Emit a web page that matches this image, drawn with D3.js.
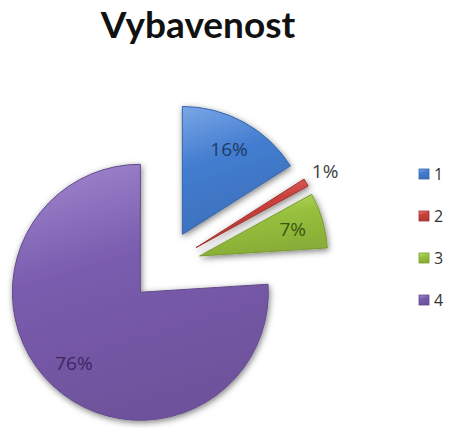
<!DOCTYPE html>
<html>
<head>
<meta charset="utf-8">
<script src="https://cdn.jsdelivr.net/npm/d3@7"></script>
<style>
  body { margin: 0; background: #fff; }
  svg { display: block; }
</style>
</head>
<body>
<div class="chart"></div>
<script>
// data
var categories = ["1", "2", "3", "4"];
var values = [16, 1, 7, 76];
var labels = ["16%", "1%", "7%", "76%"];
var colors = ["#437dd0", "#c9403c", "#98c13d", "#7a5cae"];
var lightColors = ["#7aa6e6", "#e8807a", "#c2e276", "#a288d0"];
var labelColors = ["#1e3a66", "#404040", "#3a5512", "#3a2860"];

var width = 450, height = 428;
var radius = 128, explode = 36;
var cx = 165, cy = 266;

var svg = d3.select(".chart").append("svg")
            .attr("width", width)
            .attr("height", height);

var defs = svg.append("defs");

var shadow = defs.append("filter").attr("id", "shadow")
                 .attr("x", "-20%").attr("y", "-20%")
                 .attr("width", "140%").attr("height", "140%");
shadow.append("feDropShadow")
      .attr("dx", 1).attr("dy", 2)
      .attr("stdDeviation", 3)
      .attr("flood-color", "#000")
      .attr("flood-opacity", 0.5);

colors.forEach(function(c, i){
    var g = defs.append("linearGradient").attr("id", "grad" + i)
                .attr("x1", 0).attr("y1", 0).attr("x2", 0.3).attr("y2", 1);
    g.append("stop").attr("offset", "0%").attr("stop-color", lightColors[i]);
    g.append("stop").attr("offset", "45%").attr("stop-color", c);
    g.append("stop").attr("offset", "100%").attr("stop-color", d3.color(c).darker(0.3));
});

// title
svg.append("text")
   .attr("x", 198)
   .attr("y", 38)
   .attr("text-anchor", "middle")
   .style("font-family", "Lato, 'Open Sans', sans-serif")
   .style("font-weight", "bold")
   .style("font-size", "37px")
   .style("fill", "#111")
   .text("Vybavenost");

var pie = d3.pie().sort(null).value(function(d){ return d; });
var arcs = pie(values);

var arc = d3.arc().innerRadius(0).outerRadius(radius);
var labelArc = d3.arc().innerRadius(97).outerRadius(97);
var outerLabelArc = d3.arc().innerRadius(150).outerRadius(150);

function offset(d){
    var a = (d.startAngle + d.endAngle) / 2;
    return [cx + explode * Math.sin(a), cy - explode * Math.cos(a)];
}

var slices = svg.selectAll("g.slice").data(arcs)
    .enter().append("g")
    .attr("class", "slice")
    .attr("transform", function(d){ var o = offset(d); return "translate(" + o[0] + "," + o[1] + ")"; });

slices.append("path")
      .attr("d", arc)
      .attr("fill", function(d, i){ return "url(#grad" + i + ")"; })
      .attr("stroke", function(d, i){ return d3.color(colors[i]).darker(0.6); })
      .attr("stroke-width", 1)
      .attr("filter", "url(#shadow)");

slices.append("text")
      .attr("transform", function(d, i){
          var p = values[i] < 3 ? outerLabelArc.centroid(d) : labelArc.centroid(d);
          return "translate(" + p[0] + "," + p[1] + ")";
      })
      .attr("text-anchor", "middle")
      .attr("dy", "0.35em")
      .style("font-family", "'Open Sans', sans-serif")
      .style("font-size", "19px")
      .style("fill", function(d, i){ return labelColors[i]; })
      .text(function(d, i){ return labels[i]; });

// legend (pulled in a little so the labels stay inside the window)
var legend = svg.selectAll("g.legend").data(categories)
    .enter().append("g")
    .attr("class", "legend")
    .attr("transform", function(d, i){ return "translate(419," + (174 + i * 42) + ")"; });

legend.append("rect")
      .attr("x", 0).attr("y", -5)
      .attr("width", 10).attr("height", 10)
      .attr("fill", function(d, i){ return "url(#grad" + i + ")"; })
      .attr("stroke", function(d, i){ return d3.color(colors[i]).darker(0.6); })
      .attr("stroke-width", 0.8);

legend.append("text")
      .attr("x", 15)
      .attr("dy", "0.35em")
      .style("font-family", "'Open Sans', sans-serif")
      .style("font-size", "16px")
      .style("fill", "#333")
      .text(function(d){ return d; });
</script>
</body>
</html>
